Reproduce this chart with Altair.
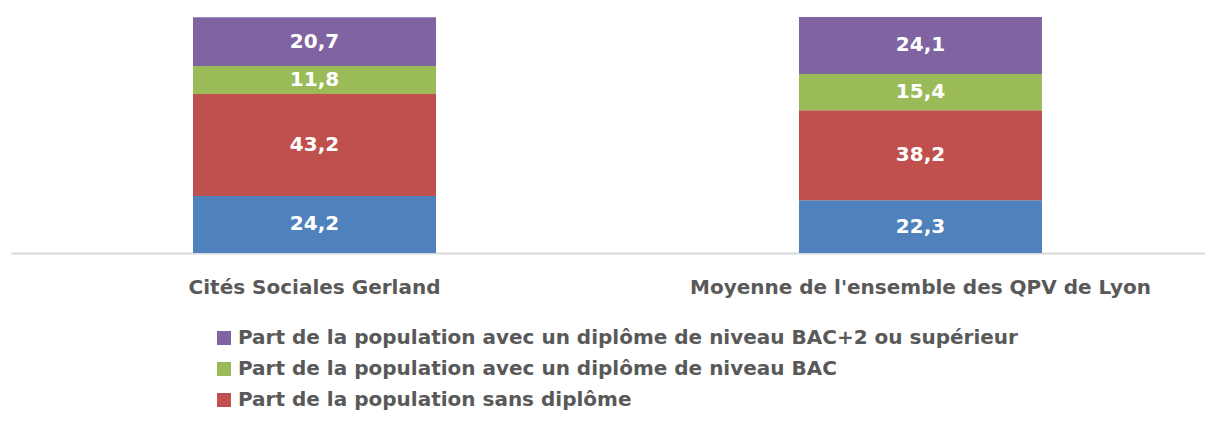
import altair as alt
import pandas as pd

categories = ["Cités Sociales Gerland", "Moyenne de l'ensemble des QPV de Lyon"]
series = [
    "Part de la population avec un diplôme de niveau CAP/BEP",
    "Part de la population sans diplôme",
    "Part de la population avec un diplôme de niveau BAC",
    "Part de la population avec un diplôme de niveau BAC+2 ou supérieur",
]
colors = ["#4F81BD", "#C0504D", "#9BBB59", "#8064A2"]
values = {
    series[0]: [24.2, 22.3],
    series[1]: [43.2, 38.2],
    series[2]: [11.8, 15.4],
    series[3]: [20.7, 24.1],
}
legend_values = [series[3], series[2], series[1]]

rows = []
for si, s in enumerate(series):
    for ci, c in enumerate(categories):
        rows.append({"cat": c, "serie": s, "order": si, "value": values[s][ci]})
df = pd.DataFrame(rows)

FONT = "DejaVu Sans"
TXT = "#595959"

base = alt.Chart(df).transform_stack(
    stack="value", groupby=["cat"], as_=["y0", "y1"], sort=[alt.SortField("order")]
).transform_calculate(
    mid="(datum.y0 + datum.y1) / 2",
    label="replace(format(datum.value, '.1f'), '.', ',')",
)

xenc = alt.X(
    "cat:N",
    sort=categories,
    scale=alt.Scale(paddingInner=0.599, paddingOuter=0.2847, align=0.5275),
    axis=alt.Axis(
        title=None, labelAngle=0, ticks=False, domainColor="#D9D9D9", domainWidth=2,
        labelFont=FONT, labelFontSize=20, labelFontWeight="bold", labelColor=TXT,
        labelPadding=24, labelBaseline="top", grid=False, labelLimit=0,
    ),
)

bars = base.mark_bar().encode(
    x=xenc,
    y=alt.Y("y0:Q", scale=alt.Scale(domain=[0, 100]), axis=None),
    y2="y1:Q",
    color=alt.Color(
        "serie:N",
        scale=alt.Scale(domain=series, range=colors),
        legend=alt.Legend(
            title=None, values=legend_values, orient="none", legendX=203, legendY=311,
            symbolType="square", symbolSize=196, symbolStrokeWidth=0, symbolOpacity=1,
            labelFont=FONT, labelFontSize=20, labelFontWeight="bold", labelColor=TXT,
            rowPadding=11, labelOffset=4, labelLimit=0,
        ),
    ),
)

labels = base.mark_text(
    color="white", font=FONT, fontSize=20, fontWeight="bold", baseline="middle"
).encode(
    x=alt.X("cat:N", sort=categories),
    y=alt.Y("mid:Q"),
    text="label:N",
)

chart = alt.layer(bars, labels).properties(
    width=1194, height=236,
    autosize=alt.AutoSizeParams(type="none"),
    padding={"left": 3, "top": 9, "right": 0, "bottom": 160},
).configure_view(stroke=None)

chart.save("out.html", embed_options={"renderer": "svg", "actions": False})
